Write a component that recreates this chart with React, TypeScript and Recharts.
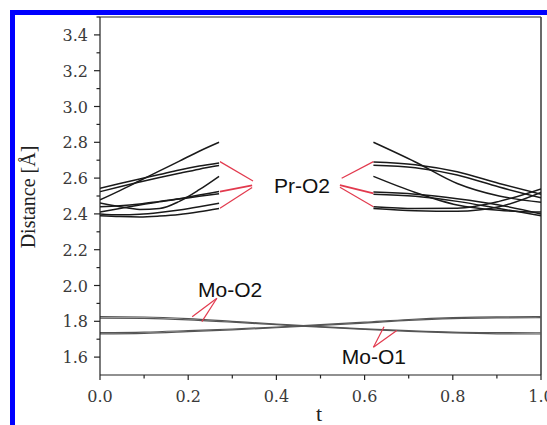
import React from 'react';
import { LineChart, Line, XAxis, YAxis, ReferenceLine, ReferenceDot } from 'recharts';

// sampling positions along t
const tLeft = [0, 0.045, 0.09, 0.135, 0.18, 0.225, 0.27];
const tRight = [0.62, 0.715, 0.81, 0.905, 1.0];
const tFull = [0, 0.1, 0.2, 0.3, 0.4, 0.5, 0.6, 0.7, 0.8, 0.9, 1.0];

// Pr-O2 distances, left branch (t = 0 .. 0.27)
const prLeftA = [2.478, 2.53, 2.585, 2.64, 2.695, 2.75, 2.8];
const prLeftB = [2.543, 2.57, 2.595, 2.62, 2.645, 2.667, 2.685];
const prLeftC = [2.524, 2.552, 2.578, 2.603, 2.627, 2.65, 2.67];
const prLeftD = [2.461, 2.44, 2.425, 2.43, 2.47, 2.535, 2.61];
const prLeftE = [2.44, 2.445, 2.455, 2.47, 2.485, 2.505, 2.525];
const prLeftF = [2.41, 2.43, 2.45, 2.468, 2.483, 2.498, 2.512];
const prLeftG = [2.4, 2.395, 2.398, 2.408, 2.422, 2.44, 2.46];
const prLeftH = [2.39, 2.385, 2.383, 2.388, 2.397, 2.412, 2.43];

// Pr-O2 distances, right branch (t = 0.62 .. 1.0)
const prRightA = [2.8, 2.69, 2.57, 2.5, 2.465];
const prRightB = [2.69, 2.675, 2.635, 2.57, 2.51];
const prRightC = [2.672, 2.658, 2.617, 2.55, 2.49];
const prRightD = [2.61, 2.52, 2.45, 2.42, 2.41];
const prRightE = [2.522, 2.51, 2.485, 2.45, 2.4];
const prRightF = [2.51, 2.498, 2.47, 2.43, 2.39];
const prRightG = [2.44, 2.43, 2.432, 2.47, 2.54];
const prRightH = [2.43, 2.418, 2.415, 2.44, 2.52];

// Mo-O distances over the whole range
const moO2a = [1.826, 1.824, 1.815, 1.8, 1.785, 1.77, 1.758, 1.748, 1.74, 1.737, 1.736];
const moO2b = [1.818, 1.816, 1.808, 1.795, 1.781, 1.767, 1.755, 1.744, 1.735, 1.73, 1.729];
const moO1a = [1.737, 1.74, 1.748, 1.757, 1.768, 1.781, 1.795, 1.81, 1.82, 1.825, 1.826];
const moO1b = [1.73, 1.733, 1.742, 1.752, 1.764, 1.777, 1.79, 1.805, 1.815, 1.819, 1.82];

const xMajor = [0, 0.2, 0.4, 0.6, 0.8, 1.0];
const xMinor = [0.1, 0.3, 0.5, 0.7, 0.9];
const yMajor = [1.6, 1.8, 2.0, 2.2, 2.4, 2.6, 2.8, 3.0, 3.2, 3.4];
const yMinor = [1.7, 1.9, 2.1, 2.3, 2.5, 2.7, 2.9, 3.1, 3.3, 3.5];

const toPoints = (ts: number[], vs: number[]) => ts.map((t, i) => ({ t, v: vs[i] }));

const prSeries = [
  toPoints(tLeft, prLeftA), toPoints(tLeft, prLeftB), toPoints(tLeft, prLeftC), toPoints(tLeft, prLeftD),
  toPoints(tLeft, prLeftE), toPoints(tLeft, prLeftF), toPoints(tLeft, prLeftG), toPoints(tLeft, prLeftH),
  toPoints(tRight, prRightA), toPoints(tRight, prRightB), toPoints(tRight, prRightC), toPoints(tRight, prRightD),
  toPoints(tRight, prRightE), toPoints(tRight, prRightF), toPoints(tRight, prRightG), toPoints(tRight, prRightH),
];
const moSeries = [moO2a, moO2b, moO1a, moO1b].map((vs) => toPoints(tFull, vs));

// red pointer segments from the labels to the curves
const pointers = [
  [{ x: 0.272, y: 2.692 }, { x: 0.347, y: 2.584 }],
  [{ x: 0.272, y: 2.524 }, { x: 0.345, y: 2.559 }],
  [{ x: 0.272, y: 2.431 }, { x: 0.345, y: 2.547 }],
  [{ x: 0.62, y: 2.692 }, { x: 0.548, y: 2.599 }],
  [{ x: 0.62, y: 2.515 }, { x: 0.544, y: 2.561 }],
  [{ x: 0.62, y: 2.44 }, { x: 0.544, y: 2.549 }],
  [{ x: 0.265, y: 1.929 }, { x: 0.209, y: 1.826 }],
  [{ x: 0.265, y: 1.929 }, { x: 0.231, y: 1.798 }],
  [{ x: 0.62, y: 1.655 }, { x: 0.644, y: 1.77 }],
  [{ x: 0.62, y: 1.655 }, { x: 0.673, y: 1.748 }],
];

const labels = [
  { text: 'Pr-O2', t: 0.458, v: 2.556 },
  { text: 'Mo-O2', t: 0.295, v: 1.98 },
  { text: 'Mo-O1', t: 0.621, v: 1.601 },
];

const isMajor = (list: number[], v: number) => list.some((m) => Math.abs(m - v) < 1e-6);

const tickStyle = { fontFamily: '"DejaVu Serif", "Liberation Serif", serif', fontSize: 16 };

function YTick(props: any) {
  const { x, y, payload } = props;
  const major = isMajor(yMajor, payload.value);
  return (
    <g>
      <line x1={x} x2={x - (major ? 6 : 3.5)} y1={y} y2={y} stroke="#222" strokeWidth={1.2} />
      {major && (
        <text x={x - 12} y={y} dy={6} textAnchor="end" fill="#3a3a3a" style={tickStyle}>
          {payload.value.toFixed(1)}
        </text>
      )}
    </g>
  );
}

function XTick(props: any) {
  const { x, y, payload } = props;
  const major = isMajor(xMajor, payload.value);
  return (
    <g>
      <line x1={x} x2={x} y1={y} y2={y + (major ? 5 : 3.5)} stroke="#222" strokeWidth={1.2} />
      {major && (
        <text x={x} y={y + 27} textAnchor="middle" fill="#3a3a3a" style={tickStyle}>
          {payload.value.toFixed(1)}
        </text>
      )}
    </g>
  );
}

export default function App() {
  return (
    <div style={{ position: 'absolute', left: 0, top: 0, width: 547, height: 425, background: '#fff', overflow: 'hidden' }}>
      <div
        style={{
          position: 'absolute',
          left: 10,
          top: 10,
          width: 560,
          height: 440,
          borderLeft: '5px solid #0000ff',
          borderTop: '5px solid #0000ff',
        }}
      />
      <div style={{ position: 'absolute', left: 0, top: 0 }}>
        <LineChart width={547} height={425} margin={{ top: 17, right: 6, bottom: 0, left: 0 }}>
          <XAxis
            type="number"
            dataKey="t"
            domain={[0, 1]}
            ticks={[...xMajor, ...xMinor].sort((a, b) => a - b)}
            interval={0}
            tickSize={0}
            tickMargin={0}
            tick={<XTick />}
            height={50}
            axisLine={{ stroke: '#222', strokeWidth: 1.2 }}
            allowDataOverflow
          />
          <YAxis
            type="number"
            domain={[1.5, 3.5]}
            ticks={[...yMajor, ...yMinor].sort((a, b) => a - b)}
            interval={0}
            tickSize={0}
            tickMargin={0}
            tick={<YTick />}
            width={100}
            axisLine={{ stroke: '#222', strokeWidth: 1.2 }}
            allowDataOverflow
          />
          <ReferenceLine y={3.5} stroke="#222" strokeWidth={1.2} />
          <ReferenceLine x={1} stroke="#444" strokeWidth={1.6} />
          {prSeries.map((d, i) => (
            <Line
              key={'pr' + i}
              data={d}
              dataKey="v"
              type="monotone"
              stroke="#1a1a1a"
              strokeWidth={1.5}
              dot={false}
              isAnimationActive={false}
            />
          ))}
          {moSeries.map((d, i) => (
            <Line
              key={'mo' + i}
              data={d}
              dataKey="v"
              type="monotone"
              stroke="#555"
              strokeWidth={1.2}
              dot={false}
              isAnimationActive={false}
            />
          ))}
          {pointers.map((seg, i) => (
            <ReferenceLine key={'p' + i} segment={seg} stroke="#e23a4e" strokeWidth={i === 1 || i === 4 ? 1.8 : 1.2} />
          ))}
          {labels.map((l) => (
            <ReferenceDot
              key={l.text}
              x={l.t}
              y={l.v}
              r={0}
              fill="none"
              stroke="none"
              label={{
                value: l.text,
                position: 'center',
                fill: '#111',
                fontSize: 21,
                fontFamily: '"Liberation Sans", Arial, sans-serif',
              }}
            />
          ))}
        </LineChart>
      </div>
      <svg width={547} height={425} style={{ position: 'absolute', left: 0, top: 0, pointerEvents: 'none' }}>
        <text
          x={35}
          y={197}
          transform="rotate(-90, 35, 197)"
          textAnchor="middle"
          fontFamily='"Liberation Serif", serif'
          fontSize={20}
          fill="#222"
        >
          Distance [Å]
        </text>
        <text x={319} y={421} textAnchor="middle" fontFamily='"Liberation Serif", serif' fontSize={22} fill="#222">
          t
        </text>
      </svg>
    </div>
  );
}
